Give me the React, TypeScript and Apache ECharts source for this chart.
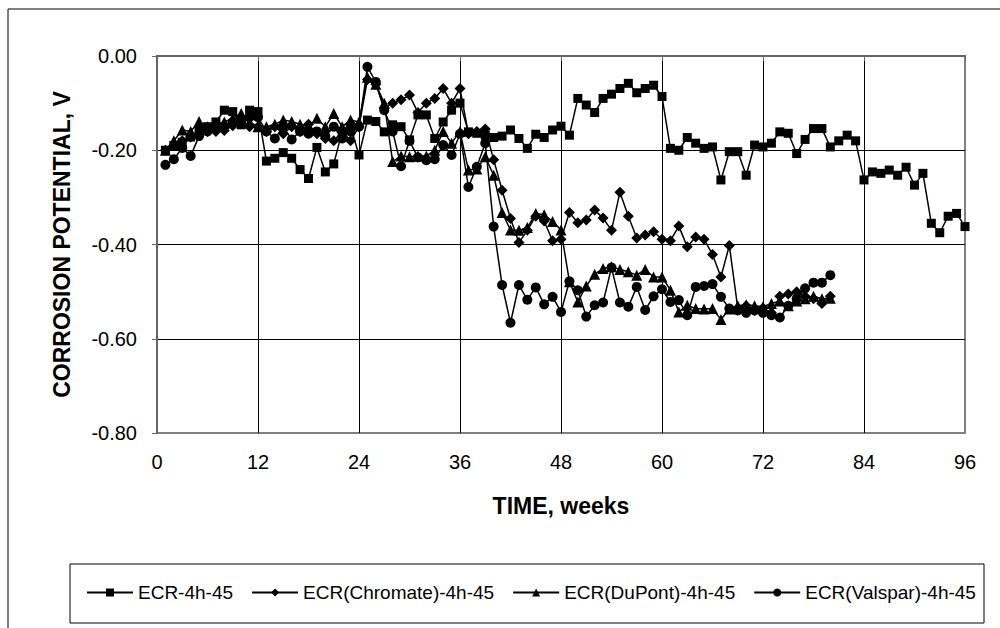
import React, { useEffect, useRef } from "react";
import * as echarts from "echarts";

const FONT = 'Arial, "Liberation Sans", sans-serif';

const seriesNames = [
  "ECR-4h-45",
  "ECR(Chromate)-4h-45",
  "ECR(DuPont)-4h-45",
  "ECR(Valspar)-4h-45",
];

const weeks = [
  1, 2, 3, 4, 5, 6, 7, 8, 9, 10, 11, 12, 13, 14, 15, 16, 17, 18, 19, 20,
  21, 22, 23, 24, 25, 26, 27, 28, 29, 30, 31, 32, 33, 34, 35, 36, 37, 38, 39, 40,
  41, 42, 43, 44, 45, 46, 47, 48, 49, 50, 51, 52, 53, 54, 55, 56, 57, 58, 59, 60,
  61, 62, 63, 64, 65, 66, 67, 68, 69, 70, 71, 72, 73, 74, 75, 76, 77, 78, 79, 80,
  81, 82, 83, 84, 85, 86, 87, 88, 89, 90, 91, 92, 93, 94, 95, 96,
];

const ecr = [
  -0.200, -0.190, -0.183, -0.172, -0.160, -0.150, -0.140, -0.115, -0.118, -0.146,
  -0.115, -0.118, -0.223, -0.217, -0.205, -0.217, -0.241, -0.260, -0.194, -0.246,
  -0.229, -0.160, -0.150, -0.210, -0.136, -0.139, -0.161, -0.146, -0.150, -0.178,
  -0.125, -0.125, -0.175, -0.140, -0.115, -0.100, -0.161, -0.164, -0.168, -0.173,
  -0.170, -0.157, -0.175, -0.196, -0.166, -0.173, -0.157, -0.149, -0.168, -0.090,
  -0.104, -0.120, -0.090, -0.081, -0.069, -0.058, -0.078, -0.069, -0.062, -0.086,
  -0.196, -0.200, -0.173, -0.185, -0.196, -0.193, -0.263, -0.203, -0.203, -0.253,
  -0.189, -0.193, -0.185, -0.161, -0.164, -0.207, -0.177, -0.154, -0.154, -0.193,
  -0.180, -0.168, -0.180, -0.263, -0.246, -0.249, -0.242, -0.253, -0.236, -0.274,
  -0.249, -0.355, -0.375, -0.340, -0.334, -0.362,
];

const chromate = [
  -0.200, -0.190, -0.180, -0.172, -0.165, -0.160, -0.160, -0.158, -0.148, -0.140,
  -0.150, -0.150, -0.160, -0.150, -0.165, -0.150, -0.160, -0.145, -0.165, -0.175,
  -0.180, -0.160, -0.180, -0.150, -0.050, -0.060, -0.110, -0.100, -0.093, -0.083,
  -0.120, -0.100, -0.090, -0.069, -0.100, -0.069, -0.165, -0.160, -0.155, -0.220,
  -0.285, -0.345, -0.396, -0.370, -0.340, -0.350, -0.392, -0.389, -0.332, -0.354,
  -0.348, -0.327, -0.344, -0.370, -0.289, -0.340, -0.386, -0.380, -0.373, -0.389,
  -0.392, -0.361, -0.405, -0.384, -0.389, -0.421, -0.469, -0.402, -0.535, -0.530,
  -0.540, -0.535, -0.545, -0.510, -0.505, -0.500, -0.510, -0.515, -0.525, -0.510,
];

const dupont = [
  -0.200, -0.180, -0.157, -0.160, -0.139, -0.150, -0.145, -0.140, -0.132, -0.122,
  -0.140, -0.150, -0.150, -0.145, -0.136, -0.139, -0.145, -0.150, -0.132, -0.150,
  -0.122, -0.150, -0.136, -0.140, -0.045, -0.060, -0.100, -0.224, -0.212, -0.214,
  -0.212, -0.212, -0.200, -0.160, -0.185, -0.160, -0.242, -0.240, -0.214, -0.253,
  -0.332, -0.369, -0.370, -0.364, -0.334, -0.337, -0.351, -0.369, -0.479, -0.522,
  -0.488, -0.463, -0.451, -0.447, -0.453, -0.458, -0.465, -0.453, -0.469, -0.469,
  -0.497, -0.543, -0.529, -0.536, -0.537, -0.536, -0.559, -0.537, -0.530, -0.528,
  -0.530, -0.532, -0.525, -0.520, -0.530, -0.520, -0.515, -0.510, -0.515, -0.514,
];

const valspar = [
  -0.231, -0.219, -0.195, -0.212, -0.170, -0.160, -0.155, -0.150, -0.140, -0.135,
  -0.130, -0.130, -0.160, -0.175, -0.150, -0.177, -0.160, -0.165, -0.160, -0.170,
  -0.150, -0.175, -0.160, -0.150, -0.023, -0.055, -0.115, -0.160, -0.234, -0.180,
  -0.215, -0.221, -0.219, -0.189, -0.210, -0.165, -0.278, -0.235, -0.185, -0.362,
  -0.486, -0.566, -0.486, -0.517, -0.491, -0.527, -0.511, -0.543, -0.478, -0.497,
  -0.553, -0.529, -0.523, -0.449, -0.523, -0.532, -0.490, -0.539, -0.510, -0.495,
  -0.522, -0.518, -0.550, -0.490, -0.488, -0.484, -0.511, -0.536, -0.540, -0.545,
  -0.540, -0.545, -0.550, -0.555, -0.530, -0.515, -0.493, -0.481, -0.481, -0.465,
];

const symbols = ["rect", "diamond", "triangle", "circle"];
const symbolSizes = [9, 11, 11, 10];
const allValues = [ecr, chromate, dupont, valspar];

export default function App() {
  const ref = useRef<HTMLDivElement>(null);

  useEffect(() => {
    if (!ref.current) return;
    const chart = echarts.init(ref.current, undefined, { renderer: "svg" });

    const series = allValues.map((vals, k) => ({
      name: seriesNames[k],
      type: "line",
      data: vals.map((v, i) => [weeks[i], v]),
      symbol: symbols[k],
      symbolSize: symbolSizes[k],
      showAllSymbol: true,
      lineStyle: { color: "#000", width: 1.5 },
      itemStyle: { color: "#000", borderColor: "#000", borderWidth: 0 },
      emphasis: { disabled: true },
      z: 3 + k,
    }));

    chart.setOption({
      animation: false,
      backgroundColor: "#fff",
      textStyle: { fontFamily: FONT },
      graphic: [
        {
          type: "rect",
          shape: { x: 8, y: 9, width: 1100, height: 700 },
          style: { fill: "none", stroke: "#000", lineWidth: 1 },
          silent: true,
        },
        {
          type: "rect",
          shape: { x: 70, y: 564, width: 914, height: 59 },
          style: { fill: "none", stroke: "#000", lineWidth: 1 },
          silent: true,
        },
      ],
      grid: {
        left: 157,
        top: 56,
        width: 808,
        height: 377,
        show: true,
        borderColor: "#808080",
        borderWidth: 2,
        backgroundColor: "transparent",
      },
      legend: {
        data: seriesNames,
        left: 86,
        top: 583,
        itemWidth: 46,
        itemHeight: 10,
        itemGap: 18,
        padding: 0,
        selectedMode: false,
        textStyle: { fontSize: 19, color: "#000", fontFamily: FONT },
      },
      xAxis: {
        type: "value",
        min: 0,
        max: 96,
        interval: 12,
        name: "TIME, weeks",
        nameLocation: "middle",
        nameGap: 61,
        nameTextStyle: { fontFamily: FONT, fontWeight: "bold", fontSize: 23, color: "#000" },
        axisLine: { show: true, lineStyle: { color: "#666", width: 2 } },
        axisTick: { show: true, length: 5, lineStyle: { color: "#666", width: 1 } },
        axisLabel: { fontSize: 20, color: "#000", margin: 19, fontFamily: FONT },
        splitLine: {
          show: true,
          lineStyle: {
            color: ["#808080", "#000", "#000", "#000", "#000", "#000", "#000", "#000", "#808080"],
            width: 1,
          },
        },
      },
      yAxis: {
        type: "value",
        min: -0.8,
        max: 0,
        interval: 0.2,
        name: "CORROSION POTENTIAL, V",
        nameLocation: "middle",
        nameGap: 84,
        nameRotate: 90,
        nameTextStyle: { fontFamily: FONT, fontWeight: "bold", fontSize: 23, color: "#000" },
        axisLine: { show: true, onZero: false, lineStyle: { color: "#666", width: 2 } },
        axisTick: { show: true, length: 5, lineStyle: { color: "#666", width: 1 } },
        axisLabel: {
          fontSize: 20,
          color: "#000",
          margin: 20,
          fontFamily: FONT,
          formatter: (v: number) => (Math.abs(v) < 1e-9 ? 0 : v).toFixed(2),
        },
        splitLine: {
          show: true,
          lineStyle: { color: ["#808080", "#000", "#000", "#000", "#808080"], width: 1 },
        },
      },
      series,
    });

    return () => chart.dispose();
  }, []);

  return (
    <div
      ref={ref}
      style={{ position: "absolute", left: 0, top: 0, width: 1000, height: 628, background: "#fff" }}
    />
  );
}
